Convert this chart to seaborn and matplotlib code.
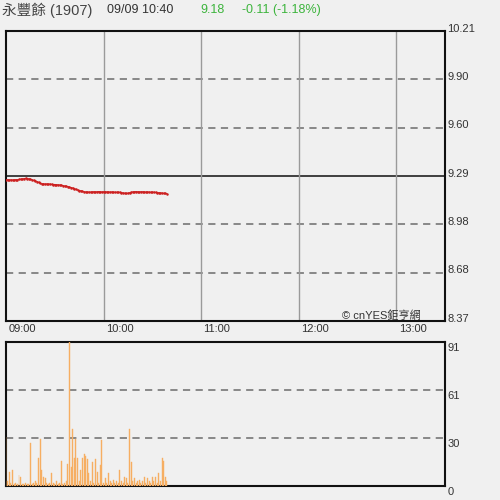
import matplotlib
matplotlib.use("Agg")
import matplotlib.pyplot as plt
import seaborn as sns
import numpy as np
import pandas as pd

# ---- data ----
minutes = list(range(100))  # minutes after 09:00
price = [
    9.265, 9.266, 9.264, 9.266, 9.265, 9.265, 9.267, 9.266, 9.268, 9.270,
    9.271, 9.273, 9.275, 9.274, 9.272, 9.270, 9.266, 9.262, 9.260, 9.255,
    9.250, 9.244, 9.240, 9.241, 9.239, 9.240, 9.238, 9.239, 9.237, 9.236,
    9.236, 9.235, 9.234, 9.233, 9.232, 9.229, 9.227, 9.225, 9.222, 9.220,
    9.217, 9.214, 9.210, 9.206, 9.201, 9.198, 9.196, 9.193, 9.190, 9.189,
    9.189, 9.188, 9.188, 9.189, 9.190, 9.189, 9.190, 9.191, 9.190, 9.189,
    9.190, 9.190, 9.189, 9.189, 9.188, 9.189, 9.188, 9.187, 9.187, 9.187,
    9.186, 9.185, 9.183, 9.181, 9.179, 9.181, 9.184, 9.187, 9.189, 9.190,
    9.191, 9.190, 9.189, 9.190, 9.190, 9.189, 9.188, 9.189, 9.188, 9.187,
    9.188, 9.187, 9.186, 9.185, 9.184, 9.183, 9.182, 9.180, 9.179, 9.178,
]
volume = [
    31, 3, 9, 2, 10, 1, 2, 1, 7, 6,
    1, 1, 2, 1, 1, 27, 1, 2, 3, 2,
    18, 30, 10, 6, 5, 2, 1, 2, 8, 2,
    1, 3, 1, 2, 16, 1, 2, 3, 14, 91,
    12, 36, 18, 30, 18, 3, 10, 18, 20, 19,
    17, 8, 3, 15, 2, 17, 9, 2, 13, 29,
    2, 5, 2, 8, 3, 2, 4, 2, 3, 2,
    10, 3, 2, 6, 5, 2, 36, 15, 3, 5,
    2, 3, 4, 2, 3, 6, 2, 5, 3, 2,
    6, 3, 6, 2, 8, 3, 18, 16, 6, 3,
]
prev_close = 9.29
price_ticks = [8.37, 8.68, 8.98, 9.29, 9.60, 9.90, 10.21]
price_labels = ["8.37", "8.68", "8.98", "9.29", "9.60", "9.90", "10.21"]
vol_ticks_labels = ["0", "30", "61", "91"]
time_labels = ["09:00", "10:00", "11:00", "12:00", "13:00"]

title_name = "永豐餘 (1907)"
title_time = "09/09 10:40"
title_price = "9.18"
title_change = "-0.11 (-1.18%)"
copyright_txt = "© cnYES鉅亨網"

# ---- style ----
sns.set_theme(style="white")
plt.rcParams["font.family"] = ["Liberation Sans", "Noto Sans CJK TC", "DejaVu Sans"]
bg = "#f0f0f0"
fig = plt.figure(figsize=(5, 5), dpi=100, facecolor=bg)

ax1 = fig.add_axes([0.012, 0.358, 0.878, 0.580], facecolor=bg)
ax2 = fig.add_axes([0.012, 0.028, 0.878, 0.288], facecolor=bg)

xmax = 270
tmin = 8.37
tmax = 10.21
step = (tmax - tmin) / 6.0

# price panel
for k in [1, 2, 4, 5]:
    ax1.axhline(tmin + k * step, color="#808080", lw=1.3, ls=(0, (4, 3)), zorder=1)
ax1.axhline(tmin + 3 * step, color="#222222", lw=1.2, zorder=1)
for m in [60, 120, 180, 240]:
    ax1.axvline(m, color="#9a9a9a", lw=1.0, zorder=1)

df = pd.DataFrame({"minute": minutes, "price": price, "volume": volume})
sns.lineplot(data=df, x="minute", y="price", ax=ax1, color="#cc2020", lw=0.8,
             marker="o", markersize=1.8, markeredgewidth=0, zorder=3)
ax1.set_xlim(0, xmax)
ax1.set_ylim(tmin, tmax)
ax1.set_xticks([])
ax1.set_yticks([])
ax1.set_xlabel("")
ax1.set_ylabel("")
for s in ax1.spines.values():
    s.set_color("#111111")
    s.set_linewidth(1.5)

for k, lab in enumerate(price_labels):
    ax1.text(1.005, k / 6.0 + 0.008, lab, transform=ax1.transAxes, ha="left", va="center",
             fontsize=8, color="#333333")
for k, lab in enumerate(time_labels):
    ax1.text(60 * k + 1.5, -0.01, lab, transform=ax1.get_xaxis_transform(), ha="left", va="top",
             fontsize=8, color="#333333")
ax1.text(0.945, 0.0, copyright_txt, transform=ax1.transAxes, ha="right", va="bottom",
         fontsize=8, color="#333333", family=["Liberation Sans", "Noto Sans CJK TC", "DejaVu Sans"])

# volume panel
vmax = 91
bar_color = "#f6ae62"
for k in [1, 2]:
    ax2.axhline(vmax * k / 3.0, color="#808080", lw=1.3, ls=(0, (4, 3)), zorder=1)
sns.barplot(data=df, x="minute", y="volume", ax=ax2, native_scale=True, width=0.6,
            color=bar_color, saturation=1, edgecolor=bar_color, linewidth=0.3, zorder=3)
ax2.set_xlim(0, xmax)
ax2.set_ylim(0, vmax)
ax2.set_xticks([])
ax2.set_yticks([])
ax2.set_xlabel("")
ax2.set_ylabel("")
for s in ax2.spines.values():
    s.set_color("#111111")
    s.set_linewidth(1.5)
for k, lab in enumerate(vol_ticks_labels):
    ax2.text(1.005, k / 3.0 - 0.04, lab, transform=ax2.transAxes, ha="left", va="center",
             fontsize=8, color="#333333")

# header
fig.text(0.004, 0.980, title_name, ha="left", va="center", fontsize=10.5, color="#444444")
fig.text(0.214, 0.980, title_time, ha="left", va="center", fontsize=9, color="#333333")
fig.text(0.400, 0.980, title_price, ha="left", va="center", fontsize=9, color="#3cb43c")
fig.text(0.484, 0.980, title_change, ha="left", va="center", fontsize=9, color="#3cb43c")

fig.savefig("out.png", dpi=100, facecolor=bg)
